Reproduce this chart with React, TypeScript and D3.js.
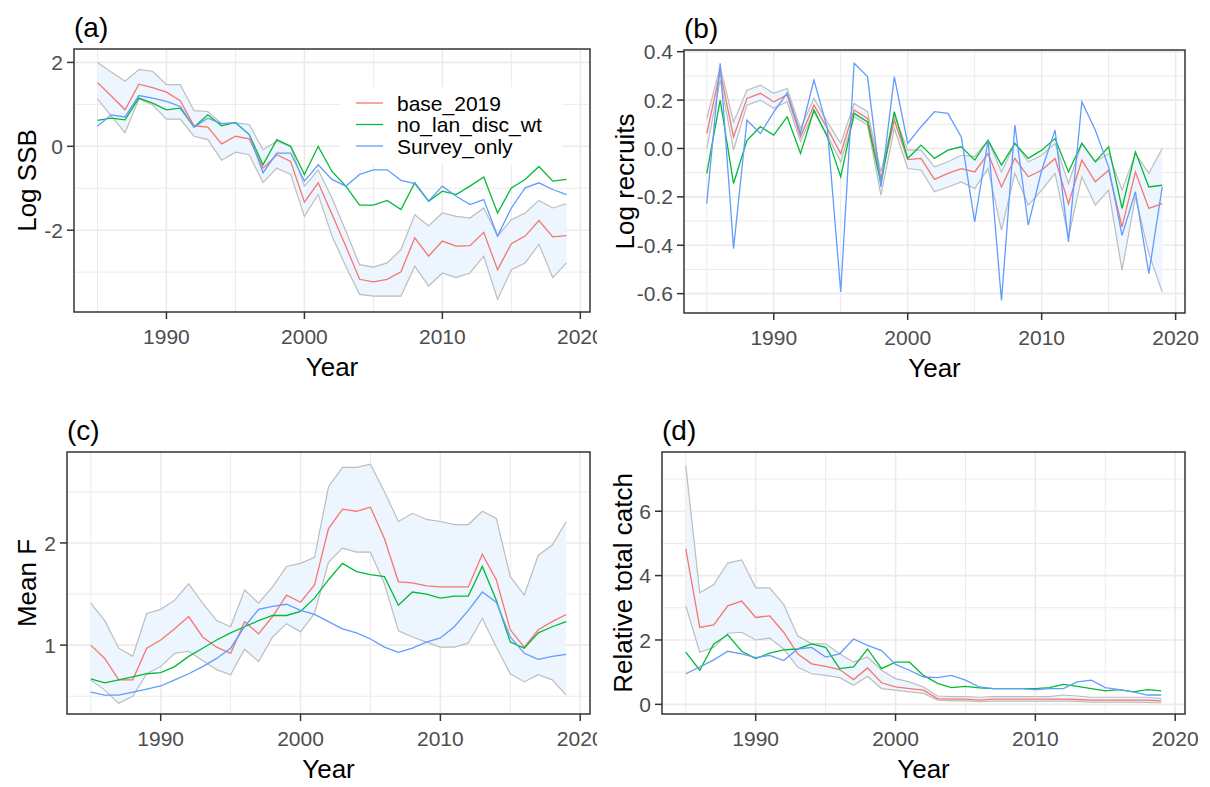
import React from "react";
import * as d3 from "d3";

// Assessment years shared by all four panels
const years = [
  1985, 1986, 1987, 1988, 1989, 1990, 1991, 1992, 1993, 1994, 1995, 1996,
  1997, 1998, 1999, 2000, 2001, 2002, 2003, 2004, 2005, 2006, 2007, 2008,
  2009, 2010, 2011, 2012, 2013, 2014, 2015, 2016, 2017, 2018, 2019,
];

const seriesNames = ["base_2019", "no_lan_disc_wt", "Survey_only"];
const seriesColors = ["#F8766D", "#00BA38", "#619CFF"];

// (a) Log SSB
const ssbBase = [1.52, 1.2, 0.87, 1.48, 1.4, 1.29, 1.09, 0.49, 0.46, 0.06, 0.24, 0.18, -0.52, -0.2, -0.36, -1.33, -0.87, -1.62, -2.38, -3.17, -3.23, -3.17, -2.99, -2.18, -2.62, -2.26, -2.38, -2.37, -2.05, -2.94, -2.32, -2.14, -1.77, -2.16, -2.13];
const ssbHigh = [2.0, 1.77, 1.55, 1.83, 1.79, 1.47, 1.47, 0.85, 0.83, 0.54, 0.56, 0.52, -0.08, 0.12, 0.0, -0.95, -0.56, -1.23, -2.02, -2.82, -2.88, -2.78, -2.46, -1.63, -1.9, -1.59, -1.67, -1.71, -1.47, -2.14, -1.75, -1.59, -1.29, -1.47, -1.37];
const ssbLow = [1.13, 0.72, 0.32, 1.13, 0.99, 0.65, 0.65, 0.24, 0.16, -0.33, -0.14, -0.2, -0.86, -0.52, -0.67, -1.67, -1.15, -2.14, -2.86, -3.53, -3.57, -3.57, -3.57, -2.86, -3.33, -3.02, -3.13, -3.02, -2.62, -3.65, -2.94, -2.78, -2.34, -3.13, -2.78];
const ssbNoLan = [0.62, 0.67, 0.63, 1.15, 1.03, 0.87, 0.91, 0.46, 0.75, 0.49, 0.57, 0.28, -0.44, 0.16, 0.0, -0.67, 0.0, -0.6, -0.95, -1.4, -1.4, -1.29, -1.51, -0.87, -1.31, -1.07, -1.15, -0.95, -0.73, -1.59, -0.99, -0.79, -0.48, -0.83, -0.79];
const ssbSurvey = [0.48, 0.75, 0.7, 1.21, 1.15, 1.07, 0.95, 0.46, 0.67, 0.54, 0.56, 0.28, -0.63, -0.16, -0.16, -0.83, -0.44, -0.79, -0.95, -0.67, -0.56, -0.56, -0.81, -0.89, -1.31, -0.95, -1.19, -1.39, -1.27, -2.14, -1.47, -0.99, -0.87, -1.03, -1.15];

// (b) Log recruits
const recBase = [0.062, 0.317, 0.048, 0.207, 0.228, 0.193, 0.221, 0.048, 0.179, 0.083, -0.021, 0.159, 0.124, -0.124, 0.117, -0.046, -0.041, -0.128, -0.103, -0.083, -0.097, -0.021, -0.159, -0.041, -0.117, -0.09, -0.041, -0.228, -0.048, -0.138, -0.09, -0.324, -0.097, -0.248, -0.228];
const recHigh = [0.124, 0.338, 0.11, 0.241, 0.262, 0.228, 0.248, 0.083, 0.207, 0.11, 0.021, 0.186, 0.152, -0.097, 0.138, -0.007, -0.007, -0.076, -0.055, -0.028, -0.034, 0.034, -0.097, 0.021, -0.055, -0.028, 0.021, -0.145, 0.021, -0.055, -0.021, -0.172, -0.021, -0.103, 0.0];
const recLow = [0.0, 0.283, -0.007, 0.179, 0.2, 0.166, 0.193, 0.028, 0.152, 0.055, -0.055, 0.131, 0.097, -0.193, 0.083, -0.083, -0.09, -0.179, -0.159, -0.138, -0.166, -0.083, -0.338, -0.103, -0.234, -0.172, -0.103, -0.366, -0.117, -0.234, -0.172, -0.503, -0.2, -0.434, -0.593];
const recNoLan = [-0.103, 0.2, -0.145, 0.034, 0.09, 0.055, 0.131, -0.021, 0.159, 0.048, -0.117, 0.145, 0.11, -0.145, 0.152, -0.041, 0.014, -0.041, -0.007, 0.007, -0.048, 0.034, -0.069, 0.021, -0.041, -0.007, 0.041, -0.097, 0.021, -0.055, 0.007, -0.248, -0.014, -0.159, -0.152];
const recSurvey = [-0.228, 0.352, -0.414, 0.117, 0.062, 0.15, 0.23, 0.062, 0.283, 0.083, -0.593, 0.352, 0.297, -0.159, 0.297, 0.021, 0.09, 0.152, 0.145, 0.048, -0.303, 0.034, -0.628, 0.097, -0.317, -0.09, 0.076, -0.386, 0.193, 0.076, -0.076, -0.359, -0.179, -0.517, -0.159];

// (c) Mean F
const fBase = [1.0, 0.87, 0.66, 0.66, 0.97, 1.05, 1.16, 1.28, 1.08, 0.98, 0.92, 1.23, 1.11, 1.28, 1.49, 1.42, 1.59, 2.14, 2.33, 2.31, 2.35, 2.04, 1.62, 1.61, 1.58, 1.57, 1.57, 1.57, 1.89, 1.64, 1.15, 0.98, 1.15, 1.23, 1.3];
const fHigh = [1.41, 1.24, 0.97, 0.89, 1.31, 1.35, 1.44, 1.6, 1.41, 1.24, 1.18, 1.54, 1.41, 1.57, 1.77, 1.8, 1.86, 2.55, 2.74, 2.74, 2.77, 2.5, 2.21, 2.29, 2.23, 2.21, 2.18, 2.18, 2.31, 2.24, 1.67, 1.49, 1.88, 1.98, 2.21];
const fLow = [0.66, 0.56, 0.43, 0.5, 0.72, 0.79, 0.92, 0.94, 0.85, 0.76, 0.71, 0.96, 0.84, 1.08, 1.21, 1.13, 1.31, 1.81, 1.95, 1.91, 1.91, 1.6, 1.14, 1.08, 1.03, 0.98, 0.98, 1.02, 1.26, 0.98, 0.72, 0.64, 0.71, 0.66, 0.51];
const fNoLan = [0.67, 0.63, 0.66, 0.69, 0.72, 0.73, 0.79, 0.89, 0.97, 1.05, 1.12, 1.18, 1.24, 1.29, 1.29, 1.33, 1.46, 1.64, 1.8, 1.72, 1.69, 1.67, 1.39, 1.52, 1.5, 1.46, 1.48, 1.48, 1.77, 1.44, 1.03, 0.97, 1.12, 1.18, 1.23];
const fSurvey = [0.54, 0.51, 0.51, 0.54, 0.57, 0.6, 0.66, 0.72, 0.79, 0.87, 0.97, 1.18, 1.35, 1.38, 1.4, 1.34, 1.3, 1.23, 1.16, 1.12, 1.06, 0.98, 0.93, 0.97, 1.03, 1.07, 1.18, 1.34, 1.52, 1.42, 1.08, 0.92, 0.86, 0.89, 0.91];

// (d) Relative total catch
const catchBase = [4.83, 2.39, 2.47, 3.06, 3.21, 2.7, 2.75, 2.24, 1.57, 1.26, 1.18, 1.08, 0.77, 1.13, 0.67, 0.54, 0.49, 0.44, 0.18, 0.16, 0.16, 0.13, 0.16, 0.16, 0.16, 0.16, 0.16, 0.16, 0.15, 0.13, 0.13, 0.13, 0.13, 0.13, 0.11];
const catchHigh = [7.42, 3.47, 3.72, 4.39, 4.49, 3.62, 3.62, 3.11, 2.13, 1.88, 1.88, 1.57, 1.31, 1.47, 1.06, 0.8, 0.7, 0.54, 0.26, 0.24, 0.24, 0.22, 0.24, 0.24, 0.24, 0.24, 0.24, 0.29, 0.26, 0.22, 0.22, 0.22, 0.22, 0.22, 0.18];
const catchLow = [3.06, 1.62, 1.77, 2.21, 2.24, 2.0, 2.06, 1.72, 1.16, 0.95, 0.9, 0.83, 0.59, 0.87, 0.49, 0.44, 0.39, 0.34, 0.13, 0.11, 0.11, 0.08, 0.1, 0.1, 0.1, 0.1, 0.1, 0.1, 0.09, 0.07, 0.07, 0.07, 0.07, 0.06, 0.05];
const catchNoLan = [1.62, 1.06, 1.88, 2.16, 1.65, 1.42, 1.59, 1.69, 1.72, 1.88, 1.77, 1.11, 1.16, 1.72, 1.11, 1.31, 1.31, 0.9, 0.65, 0.52, 0.56, 0.51, 0.49, 0.49, 0.49, 0.49, 0.52, 0.62, 0.56, 0.49, 0.42, 0.46, 0.39, 0.46, 0.42];
const catchSurvey = [0.95, 1.16, 1.38, 1.65, 1.57, 1.45, 1.52, 1.36, 1.72, 1.77, 1.47, 1.57, 2.03, 1.83, 1.67, 1.24, 1.06, 0.85, 0.83, 0.9, 0.75, 0.54, 0.49, 0.49, 0.49, 0.46, 0.49, 0.49, 0.7, 0.75, 0.52, 0.46, 0.39, 0.29, 0.29];

// Axis breaks
const xMajor = [1990, 2000, 2010, 2020];
const xMinor = [1985, 1995, 2005, 2015];
const xLabels = ["1990", "2000", "2010", "2020"];

const ssbMajor = [-2, 0, 2];
const ssbMinor = [-3, -1, 1];
const ssbLabels = ["-2", "0", "2"];

const recMajor = [-0.6, -0.4, -0.2, 0.0, 0.2, 0.4];
const recMinor = [-0.5, -0.3, -0.1, 0.1, 0.3];
const recLabels = ["-0.6", "-0.4", "-0.2", "0.0", "0.2", "0.4"];

const fMajor = [1, 2];
const fMinor = [0.5, 1.5, 2.5];
const fLabels = ["1", "2"];

const catchMajor = [0, 2, 4, 6];
const catchMinor = [1, 3, 5, 7];
const catchLabels = ["0", "2", "4", "6"];

const FONT = "'Liberation Sans', Arial, Helvetica, sans-serif";
const GRID = "#EBEBEB";
const FRAME = "#333333";
const TICK_TEXT = "#4D4D4D";
const BAND_FILL = "#EDF5FE";
const BAND_LINE = "#BDBDBD";

type Box = { l: number; r: number; t: number; b: number };

type PanelProps = {
  tag: string;
  yTitle: string;
  box: Box;
  yDomain: [number, number];
  yMajor: number[];
  yMinor: number[];
  yLabels: string[];
  base: number[];
  low: number[];
  high: number[];
  others: number[][];
  showLegend?: boolean;
  yTitleX: number;
};

function Panel(p: PanelProps) {
  const { box } = p;
  const x = d3.scaleLinear().domain([1983.3, 2020.7]).range([box.l, box.r]);
  const y = d3.scaleLinear().domain(p.yDomain).range([box.b, box.t]);

  const line = d3
    .line<number>()
    .x((_, i) => x(years[i]))
    .y((d) => y(d));
  const band = d3
    .area<number>()
    .x((_, i) => x(years[i]))
    .y0((_, i) => y(p.low[i]))
    .y1((d) => y(d));

  const series = [p.base, ...p.others];
  const midY = (box.t + box.b) / 2;
  const midX = (box.l + box.r) / 2;

  return (
    <g fontFamily={FONT}>
      {/* panel background and grid */}
      <rect x={box.l} y={box.t} width={box.r - box.l} height={box.b - box.t} fill="#fff" />
      {p.yMinor.map((v) => (
        <line key={"ym" + v} x1={box.l} x2={box.r} y1={y(v)} y2={y(v)} stroke={GRID} strokeWidth={1} />
      ))}
      {xMinor.map((v) => (
        <line key={"xm" + v} y1={box.t} y2={box.b} x1={x(v)} x2={x(v)} stroke={GRID} strokeWidth={1} />
      ))}
      {p.yMajor.map((v) => (
        <line key={"yM" + v} x1={box.l} x2={box.r} y1={y(v)} y2={y(v)} stroke={GRID} strokeWidth={1.6} />
      ))}
      {xMajor.map((v) => (
        <line key={"xM" + v} y1={box.t} y2={box.b} x1={x(v)} x2={x(v)} stroke={GRID} strokeWidth={1.6} />
      ))}

      {/* confidence band of the base run */}
      <path d={band(p.high) ?? ""} fill={BAND_FILL} stroke="none" />
      <path d={line(p.high) ?? ""} fill="none" stroke={BAND_LINE} strokeWidth={1.2} />
      <path d={line(p.low) ?? ""} fill="none" stroke={BAND_LINE} strokeWidth={1.2} />

      {series.map((s, k) => (
        <path key={"s" + k} d={line(s) ?? ""} fill="none" stroke={seriesColors[k]} strokeWidth={1.3} />
      ))}

      {/* frame */}
      <rect x={box.l} y={box.t} width={box.r - box.l} height={box.b - box.t} fill="none" stroke={FRAME} strokeWidth={1.5} />

      {/* y axis */}
      {p.yMajor.map((v, i) => (
        <g key={"yt" + v}>
          <line x1={box.l - 7} x2={box.l} y1={y(v)} y2={y(v)} stroke={FRAME} strokeWidth={1.5} />
          <text x={box.l - 11} y={y(v)} dy="0.36em" textAnchor="end" fontSize={21} fill={TICK_TEXT}>
            {p.yLabels[i]}
          </text>
        </g>
      ))}
      {/* x axis */}
      {xMajor.map((v, i) => (
        <g key={"xt" + v}>
          <line x1={x(v)} x2={x(v)} y1={box.b} y2={box.b + 7} stroke={FRAME} strokeWidth={1.5} />
          <text x={x(v)} y={box.b + 32} textAnchor="middle" fontSize={21} fill={TICK_TEXT}>
            {xLabels[i]}
          </text>
        </g>
      ))}

      <text x={midX} y={box.b + 64} textAnchor="middle" fontSize={26} fill="#000">
        Year
      </text>
      <text
        transform={`translate(${p.yTitleX},${midY}) rotate(-90)`}
        textAnchor="middle"
        fontSize={26}
        fill="#000"
      >
        {p.yTitle}
      </text>
      <text x={box.l} y={box.t - 12} fontSize={28} fill="#000">
        {p.tag}
      </text>

      {p.showLegend && (
        <g>
          <rect x={340} y={87} width={222} height={77} fill="#fff" />
          {seriesNames.map((name, k) => {
            const ry = 103 + k * 21.5;
            return (
              <g key={name}>
                <line x1={356} x2={383} y1={ry} y2={ry} stroke={seriesColors[k]} strokeWidth={1.3} />
                <text x={397} y={ry} dy="0.36em" fontSize={21} fill="#000">
                  {name}
                </text>
              </g>
            );
          })}
        </g>
      )}
    </g>
  );
}

export default function App() {
  return (
    <svg
      width={1210}
      height={787}
      viewBox="0 0 1210 787"
      style={{ position: "absolute", left: 0, top: 0, background: "#fff" }}
    >
      <defs>
        <clipPath id="leftCol">
          <rect x={0} y={0} width={597} height={787} />
        </clipPath>
      </defs>
      <rect width={1210} height={787} fill="#fff" />
      <g clipPath="url(#leftCol)">
        <Panel
          tag="(a)"
          yTitle="Log SSB"
          box={{ l: 74, r: 590, t: 49, b: 312 }}
          yDomain={[-3.95, 2.32]}
          yMajor={ssbMajor}
          yMinor={ssbMinor}
          yLabels={ssbLabels}
          base={ssbBase}
          low={ssbLow}
          high={ssbHigh}
          others={[ssbNoLan, ssbSurvey]}
          showLegend
          yTitleX={36}
        />
        <Panel
          tag="(c)"
          yTitle="Mean F"
          box={{ l: 67, r: 590, t: 452, b: 714 }}
          yDomain={[0.326, 2.89]}
          yMajor={fMajor}
          yMinor={fMinor}
          yLabels={fLabels}
          base={fBase}
          low={fLow}
          high={fHigh}
          others={[fNoLan, fSurvey]}
          yTitleX={36}
        />
      </g>
      <Panel
        tag="(b)"
        yTitle="Log recruits"
        box={{ l: 684, r: 1185, t: 50, b: 313 }}
        yDomain={[-0.68, 0.407]}
        yMajor={recMajor}
        yMinor={recMinor}
        yLabels={recLabels}
        base={recBase}
        low={recLow}
        high={recHigh}
        others={[recNoLan, recSurvey]}
        yTitleX={634}
      />
      <Panel
        tag="(d)"
        yTitle="Relative total catch"
        box={{ l: 662, r: 1185, t: 452, b: 714 }}
        yDomain={[-0.3, 7.84]}
        yMajor={catchMajor}
        yMinor={catchMinor}
        yLabels={catchLabels}
        base={catchBase}
        low={catchLow}
        high={catchHigh}
        others={[catchNoLan, catchSurvey]}
        yTitleX={632}
      />
    </svg>
  );
}
